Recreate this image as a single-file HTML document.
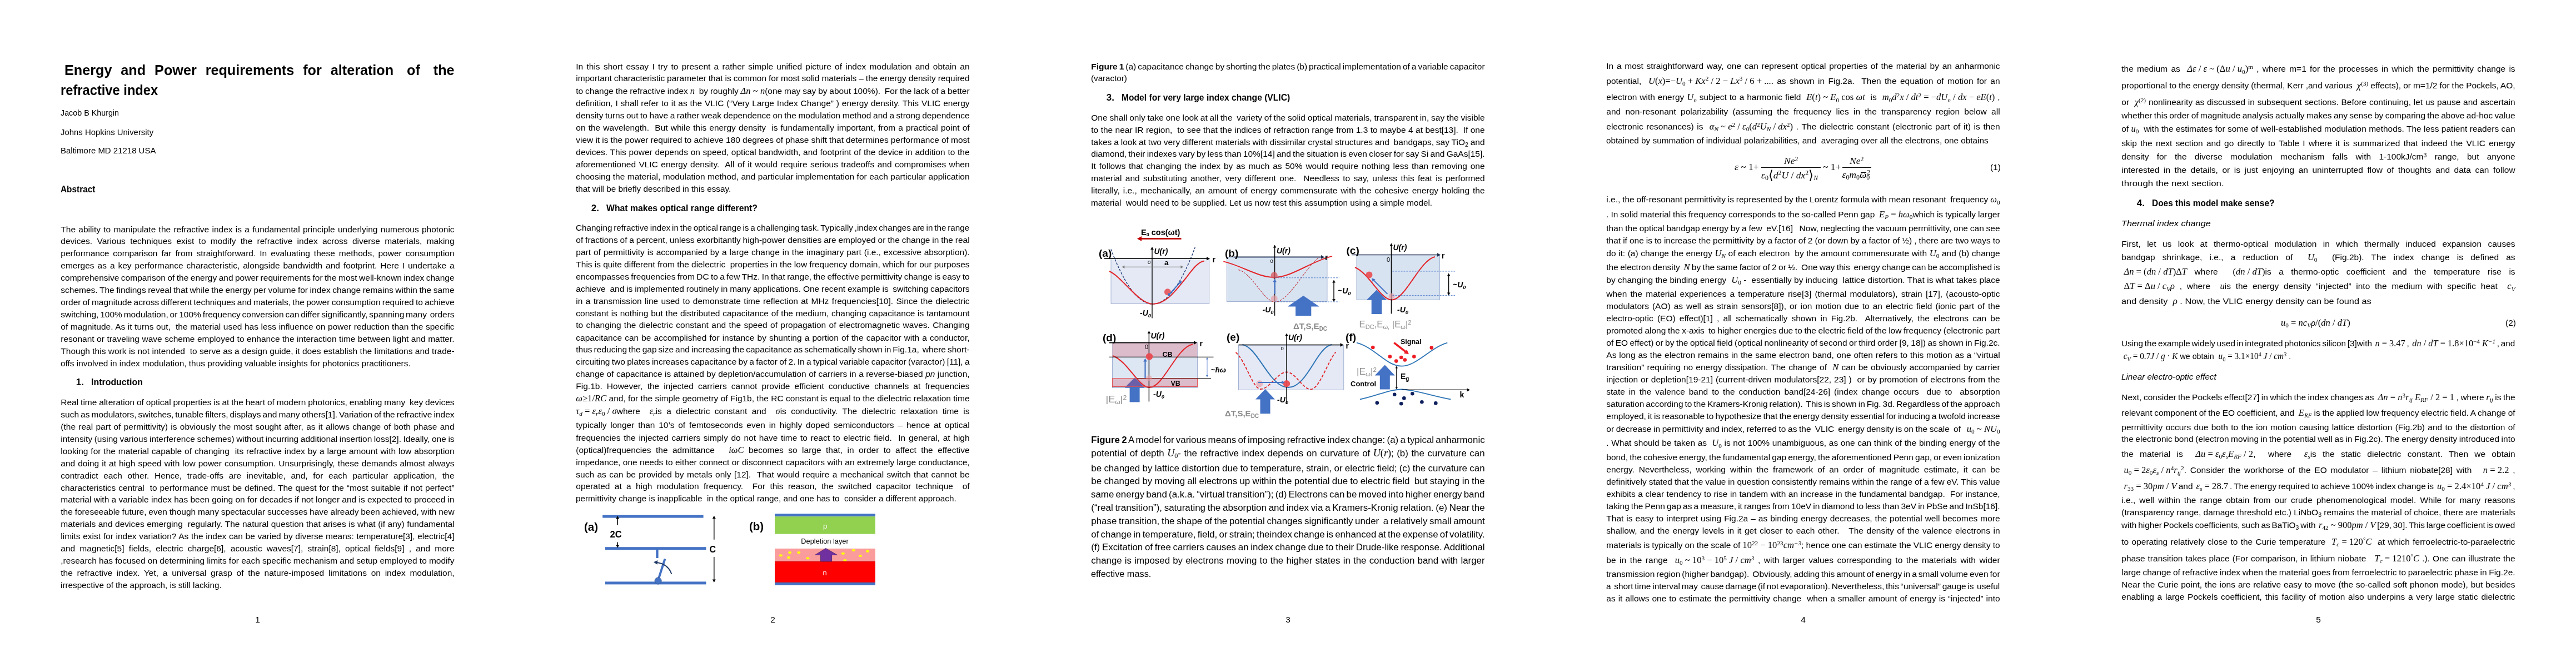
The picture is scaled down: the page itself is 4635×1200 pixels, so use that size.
<!DOCTYPE html><html><head><meta charset="utf-8"><style>
*{margin:0;padding:0}
html,body{width:4635px;height:1200px;background:#fff;overflow:hidden}
body{position:relative;font-family:"Liberation Sans",sans-serif;color:#000}
#wrap{position:absolute;left:0;top:0;width:4635px;height:1200px;background:#fff;will-change:transform}
.l{position:absolute;white-space:pre;font-family:"Liberation Sans",sans-serif}
.m{font-family:"Liberation Serif",serif;font-style:italic;font-size:1.07em;line-height:0}
.r{font-style:normal}
sub,sup{font-size:0.68em;line-height:0;position:relative;vertical-align:baseline}
sub{top:0.3em}
sup{top:-0.45em}
.l b{font-weight:bold}
svg{position:absolute;top:0;overflow:visible}
.ob{position:relative}
.ob::after{content:"";position:absolute;left:0.12em;right:0;top:0.36em;height:0;border-top:1px solid #000}
</style></head><body><div id="wrap">
<div class="l" id="L0" style="left:116.00px;top:110.37px;font-size:25.2px;line-height:32px;font-weight:bold;word-spacing:0.988px;">Energy  and  Power  requirements  for  alteration   of   the</div>
<div class="l" id="L1" style="left:109.30px;top:146.27px;font-size:25.2px;line-height:32px;font-weight:bold;transform:scaleX(0.9409);transform-origin:0 0;">refractive index</div>
<div class="l" id="L2" style="left:109.30px;top:193.33px;font-size:15.5px;line-height:20px;transform:scaleX(0.9231);transform-origin:0 0;">Jacob B Khurgin</div>
<div class="l" id="L3" style="left:109.30px;top:227.63px;font-size:15.5px;line-height:20px;transform:scaleX(0.9608);transform-origin:0 0;">Johns Hopkins University</div>
<div class="l" id="L4" style="left:109.30px;top:261.33px;font-size:15.5px;line-height:20px;transform:scaleX(0.9658);transform-origin:0 0;">Baltimore MD 21218 USA</div>
<div class="l" id="L5" style="left:109.30px;top:330.34px;font-size:16.9px;line-height:22px;font-weight:bold;transform:scaleX(0.9105);transform-origin:0 0;">Abstract</div>
<div class="l" id="L6" style="left:109.30px;top:402.53px;font-size:15.5px;line-height:20px;word-spacing:0.998px;">The ability to manipulate the refractive index is a fundamental principle underlying numerous photonic</div>
<div class="l" id="L7" style="left:109.30px;top:424.47px;font-size:15.5px;line-height:20px;word-spacing:3.985px;">devices. Various techniques exist to modify the refractive index across diverse materials, making</div>
<div class="l" id="L8" style="left:109.30px;top:446.40px;font-size:15.5px;line-height:20px;word-spacing:2.682px;">performance comparison far from straightforward. In evaluating these methods, power consumption</div>
<div class="l" id="L9" style="left:109.30px;top:468.34px;font-size:15.5px;line-height:20px;word-spacing:1.663px;">emerges as a key performance characteristic, alongside bandwidth and footprint. Here I undertake a</div>
<div class="l" id="L10" style="left:109.30px;top:490.27px;font-size:15.5px;line-height:20px;word-spacing:-0.856px;">comprehensive comparison of the energy and power requirements for the most well-known index change</div>
<div class="l" id="L11" style="left:109.30px;top:512.21px;font-size:15.5px;line-height:20px;word-spacing:-0.731px;">schemes. The findings reveal that while the energy per volume for index change remains within the same</div>
<div class="l" id="L12" style="left:109.30px;top:534.15px;font-size:15.5px;line-height:20px;word-spacing:-1.035px;">order of magnitude across different techniques and materials, the power consumption required to achieve</div>
<div class="l" id="L13" style="left:109.30px;top:556.08px;font-size:15.5px;line-height:20px;word-spacing:-1.475px;">switching, 100% modulation, or 100% frequency conversion can differ significantly, spanning many  orders</div>
<div class="l" id="L14" style="left:109.30px;top:578.02px;font-size:15.5px;line-height:20px;word-spacing:0.242px;">of magnitude. As it turns out,  the material used has less influence on power reduction than the specific</div>
<div class="l" id="L15" style="left:109.30px;top:599.96px;font-size:15.5px;line-height:20px;word-spacing:0.188px;">resonant or traveling wave scheme employed to enhance the interaction time between light and matter.</div>
<div class="l" id="L16" style="left:109.30px;top:621.89px;font-size:15.5px;line-height:20px;word-spacing:0.093px;">Though this work is not intended  to serve as a design guide, it does establish the limitations and trade-</div>
<div class="l" id="L17" style="left:109.30px;top:643.83px;font-size:15.5px;line-height:20px;transform:scaleX(0.9934);transform-origin:0 0;">offs involved in index modulation, thus providing valuable insights for photonics practitioners.</div>
<div class="l" id="L18" style="left:136.80px;top:677.04px;font-size:16.9px;line-height:22px;font-weight:bold;">1.</div>
<div class="l" id="L19" style="left:163.80px;top:677.04px;font-size:16.9px;line-height:22px;font-weight:bold;transform:scaleX(0.9430);transform-origin:0 0;">Introduction</div>
<div class="l" id="L20" style="left:109.30px;top:713.93px;font-size:15.5px;line-height:20px;word-spacing:-0.401px;">Real time alteration of optical properties is at the heart of modern photonics, enabling many  key devices</div>
<div class="l" id="L21" style="left:109.30px;top:735.87px;font-size:15.5px;line-height:20px;word-spacing:-1.264px;">such as modulators, switches, tunable filters, displays and many others[1]. Variation of the refractive index</div>
<div class="l" id="L22" style="left:109.30px;top:757.81px;font-size:15.5px;line-height:20px;word-spacing:1.010px;">(the real part of permittivity) is obviously the most sought after, as it allows change of both phase and</div>
<div class="l" id="L23" style="left:109.30px;top:779.75px;font-size:15.5px;line-height:20px;word-spacing:-0.756px;">intensity (using various interference schemes) without incurring additional insertion loss[2]. Ideally, one is</div>
<div class="l" id="L24" style="left:109.30px;top:801.69px;font-size:15.5px;line-height:20px;word-spacing:0.612px;">looking for the material capable of changing  its refractive index by a large amount with low absorption</div>
<div class="l" id="L25" style="left:109.30px;top:823.63px;font-size:15.5px;line-height:20px;word-spacing:0.765px;">and doing it at high speed with low power consumption. Unsurprisingly, these demands almost always</div>
<div class="l" id="L26" style="left:109.30px;top:845.57px;font-size:15.5px;line-height:20px;word-spacing:5.412px;">contradict each other. Hence, trade-offs are inevitable, and, for each particular application, the</div>
<div class="l" id="L27" style="left:109.30px;top:867.51px;font-size:15.5px;line-height:20px;word-spacing:0.617px;">characteristics central  to performance must be defined. The quest for the “most suitable if not perfect”</div>
<div class="l" id="L28" style="left:109.30px;top:889.45px;font-size:15.5px;line-height:20px;word-spacing:-0.045px;">material with a variable index has been going on for decades if not longer and is expected to proceed in</div>
<div class="l" id="L29" style="left:109.30px;top:911.39px;font-size:15.5px;line-height:20px;word-spacing:-0.462px;">the foreseeable future, even though many spectacular successes have already been achieved, with new</div>
<div class="l" id="L30" style="left:109.30px;top:933.33px;font-size:15.5px;line-height:20px;word-spacing:0.217px;">materials and devices emerging  regularly. The natural question that arises is what (if any) fundamental</div>
<div class="l" id="L31" style="left:109.30px;top:955.27px;font-size:15.5px;line-height:20px;word-spacing:0.352px;">limits exist for index variation? As the index can be varied by diverse means: temperature[3], electric[4]</div>
<div class="l" id="L32" style="left:109.30px;top:977.21px;font-size:15.5px;line-height:20px;word-spacing:3.886px;">and magnetic[5] fields, electric charge[6], acoustic waves[7], strain[8], optical fields[9] , and more</div>
<div class="l" id="L33" style="left:109.30px;top:999.15px;font-size:15.5px;line-height:20px;word-spacing:-0.115px;">,research has focused on determining limits for each specific mechanism and setup employed to modify</div>
<div class="l" id="L34" style="left:109.30px;top:1021.09px;font-size:15.5px;line-height:20px;word-spacing:3.451px;">the refractive index. Yet, a universal grasp of the nature-imposed limitations on index modulation,</div>
<div class="l" id="L35" style="left:109.30px;top:1043.03px;font-size:15.5px;line-height:20px;transform:scaleX(0.9832);transform-origin:0 0;">irrespective of the approach, is still lacking.</div>
<div class="l" id="L36" style="left:1036.30px;top:109.53px;font-size:15.5px;line-height:20px;word-spacing:1.966px;">In this short essay I try to present a rather simple unified picture of index modulation and obtain an</div>
<div class="l" id="L37" style="left:1036.30px;top:131.43px;font-size:15.5px;line-height:20px;word-spacing:-0.358px;">important characteristic parameter that is common for most solid materials – the energy density required</div>
<div class="l" id="L38" style="left:1036.30px;top:154.03px;font-size:15.5px;line-height:20px;word-spacing:-0.457px;">to change the refractive index <span class="m">n</span>  by roughly <span class="m">Δn</span><span class="m r"> ~ </span><span class="m">n</span>(one may say by about 100%).  For the lack of a better</div>
<div class="l" id="L39" style="left:1036.30px;top:175.83px;font-size:15.5px;line-height:20px;word-spacing:0.516px;">definition, I shall refer to it as the VLIC (“Very Large Index Change” ) energy density. This VLIC energy</div>
<div class="l" id="L40" style="left:1036.30px;top:197.93px;font-size:15.5px;line-height:20px;word-spacing:-0.757px;">density turns out to have a rather weak dependence on the modulation method and a strong dependence</div>
<div class="l" id="L41" style="left:1036.30px;top:219.83px;font-size:15.5px;line-height:20px;word-spacing:0.816px;">on the wavelength.  But while this energy density  is fundamentally important, from a practical point of</div>
<div class="l" id="L42" style="left:1036.30px;top:241.93px;font-size:15.5px;line-height:20px;word-spacing:-0.198px;">view it is the power required to achieve 180 degrees of phase shift that determines performance of most</div>
<div class="l" id="L43" style="left:1036.30px;top:263.73px;font-size:15.5px;line-height:20px;word-spacing:0.394px;">devices. This power depends on speed, optical bandwidth, and footprint of the device in addition to the</div>
<div class="l" id="L44" style="left:1036.30px;top:285.73px;font-size:15.5px;line-height:20px;word-spacing:1.093px;">aforementioned VLIC energy density.  All of it would require serious tradeoffs and compromises when</div>
<div class="l" id="L45" style="left:1036.30px;top:307.73px;font-size:15.5px;line-height:20px;word-spacing:0.162px;">choosing the material, modulation method, and particular implementation for each particular application</div>
<div class="l" id="L46" style="left:1036.30px;top:329.63px;font-size:15.5px;line-height:20px;transform:scaleX(0.9860);transform-origin:0 0;">that will be briefly described in this essay.</div>
<div class="l" id="L47" style="left:1063.80px;top:364.14px;font-size:16.9px;line-height:22px;font-weight:bold;">2.</div>
<div class="l" id="L48" style="left:1090.80px;top:364.14px;font-size:16.9px;line-height:22px;font-weight:bold;transform:scaleX(0.9349);transform-origin:0 0;">What makes optical range different?</div>
<div class="l" id="L49" style="left:1036.30px;top:399.93px;font-size:15.5px;line-height:20px;word-spacing:-1.500px;transform:scaleX(0.9856);transform-origin:0 0;">Changing refractive index in the optical range is a challenging task. Typically ,index changes are in the range</div>
<div class="l" id="L50" style="left:1036.30px;top:421.73px;font-size:15.5px;line-height:20px;word-spacing:-0.428px;">of fractions of a percent, unless exorbitantly high-power densities are employed or the change in the real</div>
<div class="l" id="L51" style="left:1036.30px;top:443.73px;font-size:15.5px;line-height:20px;word-spacing:0.583px;">part of permittivity is accompanied by a large change in the imaginary part (i.e., excessive absorption).</div>
<div class="l" id="L52" style="left:1036.30px;top:465.69px;font-size:15.5px;line-height:20px;word-spacing:-0.078px;">This is quite different from the dielectric  properties in the low frequency domain, which for our purposes</div>
<div class="l" id="L53" style="left:1036.30px;top:487.65px;font-size:15.5px;line-height:20px;word-spacing:-0.922px;">encompasses frequencies from DC to a few THz. In that range, the effective permittivity change is easy to</div>
<div class="l" id="L54" style="left:1036.30px;top:509.61px;font-size:15.5px;line-height:20px;word-spacing:-0.453px;">achieve  and is implemented routinely in many applications. One recent example is  switching capacitors</div>
<div class="l" id="L55" style="left:1036.30px;top:531.57px;font-size:15.5px;line-height:20px;word-spacing:1.055px;">in a transmission line used to demonstrate time reflection at MHz frequencies[10]. Since the dielectric</div>
<div class="l" id="L56" style="left:1036.30px;top:553.53px;font-size:15.5px;line-height:20px;word-spacing:0.465px;">constant is nothing but the distributed capacitance of the medium, changing capacitance is tantamount</div>
<div class="l" id="L57" style="left:1036.30px;top:575.43px;font-size:15.5px;line-height:20px;word-spacing:1.060px;">to changing the dielectric constant and the speed of propagation of electromagnetic waves. Changing</div>
<div class="l" id="L58" style="left:1036.30px;top:597.83px;font-size:15.5px;line-height:20px;word-spacing:0.806px;">capacitance can be accomplished for instance by shunting a portion of the capacitor with a conductor,</div>
<div class="l" id="L59" style="left:1036.30px;top:619.33px;font-size:15.5px;line-height:20px;word-spacing:-1.288px;">thus reducing the gap size and increasing the capacitance as schematically shown in Fig.1a,  where short-</div>
<div class="l" id="L60" style="left:1036.30px;top:641.13px;font-size:15.5px;line-height:20px;word-spacing:-0.990px;">circuiting two plates increases capacitance by a factor of 2. In a typical variable capacitor (varactor) [11], a</div>
<div class="l" id="L61" style="left:1036.30px;top:663.23px;font-size:15.5px;line-height:20px;word-spacing:0.134px;">change of capacitance is attained by depletion/accumulation of carriers in a reverse-biased <i>pn</i> junction,</div>
<div class="l" id="L62" style="left:1036.30px;top:685.33px;font-size:15.5px;line-height:20px;word-spacing:3.870px;">Fig.1b. However, the injected carriers cannot provide efficient conductive channels at frequencies</div>
<div class="l" id="L63" style="left:1036.30px;top:707.13px;font-size:15.5px;line-height:20px;word-spacing:0.070px;"><span class="m">ω</span><span class="m r">≥1/</span><span class="m">RC</span> and, for the simple geometry of Fig1b, the RC constant is equal to the dielectric relaxation time</div>
<div class="l" id="L64" style="left:1036.30px;top:729.83px;font-size:15.5px;line-height:20px;word-spacing:4.083px;"><span class="m">τ<sub>d</sub></span><span class="m r"> = </span><span class="m">ε<sub>r</sub>ε</span><span class="m r"><sub>0</sub> / </span><span class="m">σ</span>where  <span class="m">ε<sub>r</sub></span>is a dielectric constant and  <span class="m">σ</span>is conductivity. The dielectric relaxation time is</div>
<div class="l" id="L65" style="left:1036.30px;top:755.23px;font-size:15.5px;line-height:20px;word-spacing:2.546px;">typically longer than 10’s of femtoseconds even in highly doped semiconductors – hence at optical</div>
<div class="l" id="L66" style="left:1036.30px;top:777.63px;font-size:15.5px;line-height:20px;word-spacing:1.393px;">frequencies the injected carriers simply do not have time to react to electric field.  In general, at high</div>
<div class="l" id="L67" style="left:1036.30px;top:799.73px;font-size:15.5px;line-height:20px;word-spacing:4.134px;">(optical)frequencies the admittance   <span class="m">iωC</span> becomes so large that, in order to affect the effective</div>
<div class="l" id="L68" style="left:1036.30px;top:821.83px;font-size:15.5px;line-height:20px;word-spacing:0.070px;">impedance, one needs to either connect or disconnect capacitors with an extremely large conductance,</div>
<div class="l" id="L69" style="left:1036.30px;top:843.63px;font-size:15.5px;line-height:20px;word-spacing:1.120px;">such as can be provided by metals only [12].  That would require a mechanical switch that cannot be</div>
<div class="l" id="L70" style="left:1036.30px;top:865.43px;font-size:15.5px;line-height:20px;word-spacing:4.043px;">operated at a high modulation frequency.  For this reason, the switched capacitor technique  of</div>
<div class="l" id="L71" style="left:1036.30px;top:887.03px;font-size:15.5px;line-height:20px;transform:scaleX(0.9851);transform-origin:0 0;">permittivity change is inapplicable  in the optical range, and one has to  consider a different approach.</div>
<div class="l" id="L72" style="left:1963.30px;top:110.03px;font-size:15.5px;line-height:20px;word-spacing:-1.314px;"><b>Figure 1</b> (a) capacitance change by shorting the plates (b) practical implementation of a variable capacitor</div>
<div class="l" id="L73" style="left:1963.30px;top:131.33px;font-size:15.5px;line-height:20px;transform:scaleX(0.9785);transform-origin:0 0;">(varactor)</div>
<div class="l" id="L74" style="left:1990.80px;top:165.24px;font-size:16.9px;line-height:22px;font-weight:bold;">3.</div>
<div class="l" id="L75" style="left:2017.80px;top:165.24px;font-size:16.9px;line-height:22px;font-weight:bold;transform:scaleX(0.9256);transform-origin:0 0;">Model for very large index change (VLIC)</div>
<div class="l" id="L76" style="left:1963.30px;top:202.13px;font-size:15.5px;line-height:20px;word-spacing:-0.426px;">One shall only take one look at all the  variety of the solid optical materials, transparent in, say the visible</div>
<div class="l" id="L77" style="left:1963.30px;top:223.93px;font-size:15.5px;line-height:20px;word-spacing:0.114px;">to the near IR region,  to see that the indices of refraction range from 1.3 to maybe 4 at best[13].  If one</div>
<div class="l" id="L78" style="left:1963.30px;top:245.53px;font-size:15.5px;line-height:20px;word-spacing:-0.421px;">takes a look at two very different materials with dissimilar crystal structures and  bandgaps, say TiO<sub>2</sub> and</div>
<div class="l" id="L79" style="left:1963.30px;top:267.23px;font-size:15.5px;line-height:20px;word-spacing:-1.049px;">diamond, their indexes vary by less than 10%[14] and the situation is even closer for say Si and GaAs[15].</div>
<div class="l" id="L80" style="left:1963.30px;top:289.03px;font-size:15.5px;line-height:20px;word-spacing:1.574px;">It follows that changing the index by as much as 50% would require nothing less than removing one</div>
<div class="l" id="L81" style="left:1963.30px;top:311.13px;font-size:15.5px;line-height:20px;word-spacing:2.111px;">material and substituting another, very different one.  Needless to say, unless this feat is performed</div>
<div class="l" id="L82" style="left:1963.30px;top:333.23px;font-size:15.5px;line-height:20px;word-spacing:1.707px;">literally, i.e., mechanically, an amount of energy commensurate with the cohesive energy holding the</div>
<div class="l" id="L83" style="left:1963.30px;top:355.03px;font-size:15.5px;line-height:20px;transform:scaleX(0.9858);transform-origin:0 0;">material  would need to be supplied. Let us now test this assumption using a simple model.</div>
<div class="l" id="L84" style="left:1963.30px;top:780.84px;font-size:16.9px;line-height:22px;word-spacing:-1.411px;"><b>Figure 2</b> A model for various means of imposing refractive index change: (a) a typical anharmonic</div>
<div class="l" id="L85" style="left:1963.30px;top:804.64px;font-size:16.9px;line-height:22px;word-spacing:0.854px;">potential of depth <span class="m">U</span><span class="m r"><sub>0</sub></span>- the refractive index depends on curvature of <span class="m">U</span><span class="m r">(</span><span class="m">r</span><span class="m r">)</span>; (b) the curvature can</div>
<div class="l" id="L86" style="left:1963.30px;top:831.54px;font-size:16.9px;line-height:22px;word-spacing:-0.349px;">be changed by lattice distortion due to temperature, strain, or electric field; (c) the curvature can</div>
<div class="l" id="L87" style="left:1963.30px;top:855.36px;font-size:16.9px;line-height:22px;word-spacing:-0.399px;">be changed by moving all electrons up within the potential due to electric field  but staying in the</div>
<div class="l" id="L88" style="left:1963.30px;top:879.17px;font-size:16.9px;line-height:22px;word-spacing:-1.500px;transform:scaleX(0.9997);transform-origin:0 0;">same energy band (a.k.a. “virtual transition”); (d) Electrons can be moved into higher energy band</div>
<div class="l" id="L89" style="left:1963.30px;top:902.98px;font-size:16.9px;line-height:22px;word-spacing:-0.906px;">(“real transition”), saturating the absorption and index via a Kramers-Kronig relation. (e) Near the</div>
<div class="l" id="L90" style="left:1963.30px;top:926.79px;font-size:16.9px;line-height:22px;word-spacing:-0.982px;">phase transition, the shape of the potential changes significantly under  a relatively small amount</div>
<div class="l" id="L91" style="left:1963.30px;top:950.61px;font-size:16.9px;line-height:22px;word-spacing:-1.460px;">of change in temperature, field, or strain; theindex change is enhanced at the expense of volatility.</div>
<div class="l" id="L92" style="left:1963.30px;top:974.42px;font-size:16.9px;line-height:22px;word-spacing:-0.979px;">(f) Excitation of free carriers causes an index change due to their Drude-like response. Additional</div>
<div class="l" id="L93" style="left:1963.30px;top:998.23px;font-size:16.9px;line-height:22px;word-spacing:0.462px;">change is imposed by electrons moving to the higher states in the conduction band with larger</div>
<div class="l" id="L94" style="left:1963.30px;top:1022.04px;font-size:16.9px;line-height:22px;transform:scaleX(0.9640);transform-origin:0 0;">effective mass.</div>
<div class="l" id="L95" style="left:2890.30px;top:109.23px;font-size:15.5px;line-height:20px;word-spacing:1.404px;">In a most straightforward way, one can represent optical properties of the material by an anharmonic</div>
<div class="l" id="L96" style="left:2890.30px;top:135.53px;font-size:15.5px;line-height:20px;word-spacing:2.050px;">potential,  <span class="m">U</span><span class="m r">(</span><span class="m">x</span><span class="m r">)=−</span><span class="m">U</span><span class="m r"><sub>0</sub> + </span><span class="m">Kx</span><span class="m r"><sup>2</sup> / 2 − </span><span class="m">Lx</span><span class="m r"><sup>3</sup> / 6 + ....</span> as shown in Fig.2a.  Then the equation of motion for an</div>
<div class="l" id="L97" style="left:2890.30px;top:165.33px;font-size:15.5px;line-height:20px;word-spacing:0.626px;">electron with energy <span class="m">U<sub>n</sub></span> subject to a harmonic field  <span class="m">E</span><span class="m r">(</span><span class="m">t</span><span class="m r">) ~ </span><span class="m">E</span><span class="m r"><sub>0</sub> cos </span><span class="m">ωt</span>  is  <span class="m">m</span><span class="m r"><sub>0</sub></span><span class="m">d</span><span class="m r"><sup>2</sup></span><span class="m">x</span><span class="m r"> / </span><span class="m">dt</span><span class="m r"><sup>2</sup> = −</span><span class="m">dU<sub>n</sub></span><span class="m r"> / </span><span class="m">dx</span><span class="m r"> − </span><span class="m">eE</span><span class="m r">(</span><span class="m">t</span><span class="m r">)</span> ,</div>
<div class="l" id="L98" style="left:2890.30px;top:190.83px;font-size:15.5px;line-height:20px;word-spacing:3.953px;">and non-resonant polarizability (assuming the frequency lies in the transparency region below all</div>
<div class="l" id="L99" style="left:2890.30px;top:217.73px;font-size:15.5px;line-height:20px;word-spacing:1.336px;">electronic resonances) is  <span class="m">α<sub>N</sub></span><span class="m r"> ~ </span><span class="m">e</span><span class="m r"><sup>2</sup> / </span><span class="m">ε</span><span class="m r"><sub>0</sub>(</span><span class="m">d</span><span class="m r"><sup>2</sup></span><span class="m">U<sub>N</sub></span><span class="m r"> / </span><span class="m">dx</span><span class="m r"><sup>2</sup>)</span> . The dielectric constant (electronic part of it) is then</div>
<div class="l" id="L100" style="left:2890.30px;top:242.63px;font-size:15.5px;line-height:20px;transform:scaleX(0.9890);transform-origin:0 0;">obtained by summation of individual polarizabilities, and  averaging over all the electrons, one obtains</div>
<div class="l" id="L101" style="left:2890.30px;top:349.43px;font-size:15.5px;line-height:20px;word-spacing:-0.442px;">i.e., the off-resonant permittivity is represented by the Lorentz formula with mean resonant  frequency <span class="m"><span class="ob">ω</span></span><span class="m r"><sub>0</sub></span></div>
<div class="l" id="L102" style="left:2890.30px;top:375.73px;font-size:15.5px;line-height:20px;word-spacing:-0.426px;">. In solid material this frequency corresponds to the so-called Penn gap  <span class="m">E<sub>P</sub></span><span class="m r"> = </span><span class="m">ħ<span class="ob">ω</span></span><span class="m r"><sub>0</sub></span>which is typically larger</div>
<div class="l" id="L103" style="left:2890.30px;top:401.03px;font-size:15.5px;line-height:20px;word-spacing:-0.452px;">than the optical bandgap energy by a few  eV.[16]   Now, neglecting the vacuum permittivity, one can see</div>
<div class="l" id="L104" style="left:2890.30px;top:422.93px;font-size:15.5px;line-height:20px;word-spacing:-0.305px;">that if one is to increase the permittivity by a factor of 2 (or down by a factor of ½) , there are two ways to</div>
<div class="l" id="L105" style="left:2890.30px;top:445.53px;font-size:15.5px;line-height:20px;word-spacing:0.225px;">do it: (a) change the energy <span class="m">U<sub>N</sub></span> of each electron  by the amount commensurate with <span class="m">U</span><span class="m r"><sub>0</sub></span> and (b) change</div>
<div class="l" id="L106" style="left:2890.30px;top:470.53px;font-size:15.5px;line-height:20px;word-spacing:-0.965px;">the electron density  <span class="m">N</span> by the same factor of 2 or ½.  One way this  energy change can be accomplished is</div>
<div class="l" id="L107" style="left:2890.30px;top:493.73px;font-size:15.5px;line-height:20px;word-spacing:0.133px;">by changing the binding energy  <span class="m">U</span><span class="m r"><sub>0</sub></span> -  essentially by inducing  lattice distortion. That is what takes place</div>
<div class="l" id="L108" style="left:2890.30px;top:519.23px;font-size:15.5px;line-height:20px;word-spacing:1.892px;">when the material experiences a temperature rise[3] (thermal modulators), strain [17], (acousto-optic</div>
<div class="l" id="L109" style="left:2890.30px;top:541.03px;font-size:15.5px;line-height:20px;word-spacing:1.683px;">modulators (AO) as well as strain sensors[8]), or ion motion due to an electric field (ionic part of the</div>
<div class="l" id="L110" style="left:2890.30px;top:563.03px;font-size:15.5px;line-height:20px;word-spacing:2.882px;">electro-optic (EO) effect)[1] , all schematically shown in Fig.2b.  Alternatively, the electrons can be</div>
<div class="l" id="L111" style="left:2890.30px;top:585.13px;font-size:15.5px;line-height:20px;word-spacing:-0.666px;">promoted along the x-axis  to higher energies due to the electric field of the low frequency (electronic part</div>
<div class="l" id="L112" style="left:2890.30px;top:606.93px;font-size:15.5px;line-height:20px;word-spacing:-0.842px;">of EO effect) or by the optical field (optical nonlinearity of second or third order [9, 18]) as shown in Fig.2c.</div>
<div class="l" id="L113" style="left:2890.30px;top:629.03px;font-size:15.5px;line-height:20px;word-spacing:0.549px;">As long as the electron remains in the same electron band, one often refers to this motion as a “virtual</div>
<div class="l" id="L114" style="left:2890.30px;top:650.93px;font-size:15.5px;line-height:20px;word-spacing:0.836px;">transition” requiring no energy dissipation. The change of  <span class="m">N</span> can be obviously accompanied by carrier</div>
<div class="l" id="L115" style="left:2890.30px;top:673.03px;font-size:15.5px;line-height:20px;word-spacing:0.623px;">injection or depletion[19-21] (current-driven modulators[22, 23] )  or by promotion of electrons from the</div>
<div class="l" id="L116" style="left:2890.30px;top:694.83px;font-size:15.5px;line-height:20px;word-spacing:2.637px;">state in the valence band to the conduction band[24-26] (index change occurs  due to  absorption</div>
<div class="l" id="L117" style="left:2890.30px;top:716.73px;font-size:15.5px;line-height:20px;word-spacing:-1.322px;">saturation according to the Kramers-Kronig relation).  This is shown in Fig. 3d. Regardless of the approach</div>
<div class="l" id="L118" style="left:2890.30px;top:738.63px;font-size:15.5px;line-height:20px;word-spacing:-1.088px;">employed, it is reasonable to hypothesize that the energy density essential for inducing a twofold increase</div>
<div class="l" id="L119" style="left:2890.30px;top:761.83px;font-size:15.5px;line-height:20px;word-spacing:-0.726px;">or decrease in permittivity and index, referred to as the  VLIC  energy density is on the scale  of   <span class="m">u</span><span class="m r"><sub>0</sub> ~ </span><span class="m">NU</span><span class="m r"><sub>0</sub></span></div>
<div class="l" id="L120" style="left:2890.30px;top:787.33px;font-size:15.5px;line-height:20px;word-spacing:0.309px;">. What should be taken as  <span class="m">U</span><span class="m r"><sub>0</sub></span> is not 100% unambiguous, as one can think of the binding energy of the</div>
<div class="l" id="L121" style="left:2890.30px;top:813.13px;font-size:15.5px;line-height:20px;word-spacing:-1.131px;">bond, the cohesive energy, the fundamental gap energy, the aforementioned Penn gap, or even ionization</div>
<div class="l" id="L122" style="left:2890.30px;top:834.93px;font-size:15.5px;line-height:20px;word-spacing:3.660px;">energy. Nevertheless, working within the framework of an order of magnitude estimate, it can be</div>
<div class="l" id="L123" style="left:2890.30px;top:857.13px;font-size:15.5px;line-height:20px;word-spacing:-0.301px;">definitively stated that the value in question consistently remains within the range of a few eV. This value</div>
<div class="l" id="L124" style="left:2890.30px;top:879.13px;font-size:15.5px;line-height:20px;word-spacing:0.205px;">exhibits a clear tendency to rise in tandem with an increase in the fundamental bandgap.  For instance,</div>
<div class="l" id="L125" style="left:2890.30px;top:900.93px;font-size:15.5px;line-height:20px;word-spacing:-1.119px;">taking the Penn gap as a measure, it ranges from 10eV in diamond to less than 3eV in PbSe and InSb[16].</div>
<div class="l" id="L126" style="left:2890.30px;top:922.73px;font-size:15.5px;line-height:20px;word-spacing:0.704px;">That is easy to interpret using Fig.2a – as binding energy decreases, the potential well becomes more</div>
<div class="l" id="L127" style="left:2890.30px;top:945.43px;font-size:15.5px;line-height:20px;word-spacing:1.309px;">shallow, and the energy levels in it get closer to each other.   The density of the valence electrons in</div>
<div class="l" id="L128" style="left:2890.30px;top:970.93px;font-size:15.5px;line-height:20px;word-spacing:-0.315px;">materials is typically on the scale of <span class="m r">10<sup>22</sup> − 10<sup>23</sup></span><span class="m">cm<sup>−3</sup></span>; hence one can estimate the VLIC energy density to</div>
<div class="l" id="L129" style="left:2890.30px;top:997.83px;font-size:15.5px;line-height:20px;word-spacing:2.268px;">be in the range  <span class="m">u</span><span class="m r"><sub>0</sub> ~ 10<sup>3</sup> − 10<sup>5</sup></span><span class="m"> J</span><span class="m r"> / </span><span class="m">cm<sup>3</sup></span> , with larger values corresponding to the materials with wider</div>
<div class="l" id="L130" style="left:2890.30px;top:1023.13px;font-size:15.5px;line-height:20px;word-spacing:-1.323px;">transmission region (higher bandgap).  Obviously, adding this amount of energy in a small volume even for</div>
<div class="l" id="L131" style="left:2890.30px;top:1045.13px;font-size:15.5px;line-height:20px;word-spacing:-1.500px;transform:scaleX(0.9957);transform-origin:0 0;">a  short time interval may  cause damage (if not evaporation). Nevertheless, this “universal” gauge is  useful</div>
<div class="l" id="L132" style="left:2890.30px;top:1066.93px;font-size:15.5px;line-height:20px;word-spacing:0.676px;">as it allows one to estimate the permittivity change  when a smaller amount of energy is “injected” into</div>
<div class="l" id="L133" style="left:3817.30px;top:114.33px;font-size:15.5px;line-height:20px;word-spacing:1.937px;">the medium as  <span class="m">Δε</span><span class="m r"> / </span><span class="m">ε</span><span class="m r"> ~ (Δ</span><span class="m">u</span><span class="m r"> / </span><span class="m">u</span><span class="m r"><sub>0</sub>)<sup><span class="m">m</span></sup></span> , where m=1 for the processes in which the permittivity change is</div>
<div class="l" id="L134" style="left:3817.30px;top:144.03px;font-size:15.5px;line-height:20px;word-spacing:-0.293px;">proportional to the energy density (thermal, Kerr ,and various  <span class="m">χ</span><span class="m r"><sup>(3)</sup></span> effects), or m=1/2 for the Pockels, AO,</div>
<div class="l" id="L135" style="left:3817.30px;top:173.83px;font-size:15.5px;line-height:20px;word-spacing:0.477px;">or  <span class="m">χ</span><span class="m r"><sup>(2)</sup></span> nonlinearity as discussed in subsequent sections. Before continuing, let us pause and ascertain</div>
<div class="l" id="L136" style="left:3817.30px;top:198.43px;font-size:15.5px;line-height:20px;word-spacing:-0.973px;">whether this order of magnitude analysis actually makes any sense by comparing the above ad-hoc value</div>
<div class="l" id="L137" style="left:3817.30px;top:222.03px;font-size:15.5px;line-height:20px;word-spacing:0.014px;">of <span class="m">u</span><span class="m r"><sub>0</sub></span>  with the estimates for some of well-established modulation methods. The less patient readers can</div>
<div class="l" id="L138" style="left:3817.30px;top:247.93px;font-size:15.5px;line-height:20px;word-spacing:1.983px;">skip the next section and go directly to Table I where it is summarized that indeed the VLIC energy</div>
<div class="l" id="L139" style="left:3817.30px;top:272.33px;font-size:15.5px;line-height:20px;word-spacing:9.970px;">density for the diverse modulation mechanism falls with 1-100kJ/cm<sup>3</sup> range, but anyone</div>
<div class="l" id="L140" style="left:3817.30px;top:295.53px;font-size:15.5px;line-height:20px;word-spacing:3.286px;">interested in the details, or is just enjoying an uninterrupted flow of thoughts and data can follow</div>
<div class="l" id="L141" style="left:3817.30px;top:319.63px;font-size:15.5px;line-height:20px;transform:scaleX(1.0880);transform-origin:0 0;">through the next section.</div>
<div class="l" id="L142" style="left:3844.80px;top:354.94px;font-size:16.9px;line-height:22px;font-weight:bold;">4.</div>
<div class="l" id="L143" style="left:3871.80px;top:354.94px;font-size:16.9px;line-height:22px;font-weight:bold;transform:scaleX(0.9135);transform-origin:0 0;">Does this model make sense?</div>
<div class="l" id="L144" style="left:3817.30px;top:391.93px;font-size:15.5px;line-height:20px;transform:scaleX(1.0478);transform-origin:0 0;"><i>Thermal index change</i></div>
<div class="l" id="L145" style="left:3817.30px;top:428.63px;font-size:15.5px;line-height:20px;word-spacing:7.116px;">First, let us look at thermo-optical modulation in which thermally induced expansion causes</div>
<div class="l" id="L146" style="left:3817.30px;top:452.73px;font-size:15.5px;line-height:20px;word-spacing:8.897px;">bandgap shrinkage, i.e., a reduction of  <span class="m">U</span><span class="m r"><sub>0</sub></span>  (Fig.2b). The index change is defined as</div>
<div class="l" id="L147" style="left:3817.30px;top:478.83px;font-size:15.5px;line-height:20px;word-spacing:9.114px;"><span class="m"> Δn</span><span class="m r"> = (</span><span class="m">dn</span><span class="m r"> / </span><span class="m">dT</span><span class="m r">)Δ</span><span class="m">T</span> where  <span class="m r">(</span><span class="m">dn</span><span class="m r"> / </span><span class="m">dT</span><span class="m r">)</span>is a thermo-optic coefficient and the temperature rise is</div>
<div class="l" id="L148" style="left:3817.30px;top:505.13px;font-size:15.5px;line-height:20px;word-spacing:4.404px;"><span class="m r"> Δ</span><span class="m">T</span><span class="m r"> = Δ</span><span class="m">u</span><span class="m r"> / </span><span class="m">c<sub>V</sub>ρ</span> , where  <span class="m">u</span>is the energy density “injected” into the medium with specific heat  <span class="m">c<sub>V</sub></span></div>
<div class="l" id="L149" style="left:3817.30px;top:532.03px;font-size:15.5px;line-height:20px;transform:scaleX(1.0517);transform-origin:0 0;">and density  <span class="m">ρ</span> . Now, the VLIC energy density can be found as</div>
<div class="l" id="L150" style="left:4104.00px;top:570.63px;font-size:15.5px;line-height:20px;"><span class="m">u</span><span class="m r"><sub>0</sub> = </span><span class="m">nc<sub>V</sub>ρ</span><span class="m r">/(</span><span class="m">dn</span><span class="m r"> / </span><span class="m">dT</span><span class="m r">)</span></div>
<div class="l" id="L151" style="left:4508.00px;top:570.63px;font-size:15.5px;line-height:20px;">(2)</div>
<div class="l" id="L152" style="left:3817.30px;top:608.43px;font-size:15.5px;line-height:20px;word-spacing:-1.500px;transform:scaleX(0.9868);transform-origin:0 0;">Using the example widely used in integrated photonics silicon [3]with  <span class="m">n</span><span class="m r"> = 3.47</span> ,  <span class="m">dn</span><span class="m r"> / </span><span class="m">dT</span><span class="m r"> = 1.8×10<sup>−4</sup></span><span class="m"> K<sup>−1</sup></span> , and</div>
<div class="l" id="L153" style="left:3817.30px;top:631.13px;font-size:15.5px;line-height:20px;transform:scaleX(0.9209);transform-origin:0 0;"><span class="m"> c<sub>V</sub></span><span class="m r"> = 0.7</span><span class="m">J</span><span class="m r"> / </span><span class="m">g</span><span class="m r"> · </span><span class="m">K</span> we obtain  <span class="m">u</span><span class="m r"><sub>0</sub> = 3.1×10<sup>4</sup></span><span class="m"> J</span><span class="m r"> / </span><span class="m">cm<sup>3</sup></span> .</div>
<div class="l" id="L154" style="left:3817.30px;top:667.93px;font-size:15.5px;line-height:20px;transform:scaleX(0.9808);transform-origin:0 0;"><i>Linear electro-optic effect</i></div>
<div class="l" id="L155" style="left:3817.30px;top:704.83px;font-size:15.5px;line-height:20px;word-spacing:-0.809px;">Next, consider the Pockels effect[27] in which the index changes as  <span class="m">Δn</span><span class="m r"> = </span><span class="m">n</span><span class="m r"><sup>3</sup></span><span class="m">r<sub>ij</sub> E<sub>RF</sub></span><span class="m r"> / 2 = 1</span> , where <span class="m">r<sub>ij</sub></span> is the</div>
<div class="l" id="L156" style="left:3817.30px;top:733.03px;font-size:15.5px;line-height:20px;word-spacing:-0.546px;">relevant component of the EO coefficient, and  <span class="m">E<sub>RF</sub></span> is the applied low frequency electric field. A change of</div>
<div class="l" id="L157" style="left:3817.30px;top:758.53px;font-size:15.5px;line-height:20px;word-spacing:0.975px;">permittivity occurs due both to the ion motion causing lattice distortion (Fig.2b) and to the distortion of</div>
<div class="l" id="L158" style="left:3817.30px;top:780.33px;font-size:15.5px;line-height:20px;word-spacing:-0.786px;">the electronic bond (electron moving in the potential well as in Fig.2c). The energy density introduced into</div>
<div class="l" id="L159" style="left:3817.30px;top:806.73px;font-size:15.5px;line-height:20px;word-spacing:6.960px;">the material is  <span class="m">Δu</span><span class="m r"> = </span><span class="m">ε</span><span class="m r"><sub>0</sub></span><span class="m">ε<sub>s</sub>E<sub>RF</sub></span><span class="m r"> / 2</span>,  where  <span class="m">ε<sub>s</sub></span>is the static dielectric constant. Then we obtain</div>
<div class="l" id="L160" style="left:3817.30px;top:835.63px;font-size:15.5px;line-height:20px;word-spacing:2.500px;"><span class="m"> u</span><span class="m r"><sub>0</sub> = 2</span><span class="m">ε</span><span class="m r"><sub>0</sub></span><span class="m">ε<sub>s</sub></span><span class="m r"> / </span><span class="m">n</span><span class="m r"><sup>4</sup></span><span class="m">r<sub>ij</sub></span><span class="m r"><sup>2</sup></span>. Consider the workhorse of the EO modulator – lithium niobate[28] with   <span class="m">n</span><span class="m r"> = 2.2</span> ,</div>
<div class="l" id="L161" style="left:3817.30px;top:864.83px;font-size:15.5px;line-height:20px;word-spacing:-1.323px;"><span class="m"> r</span><span class="m r"><sub>33</sub> = 30</span><span class="m">pm</span><span class="m r"> / </span><span class="m">V</span> and  <span class="m">ε<sub>s</sub></span><span class="m r"> = 28.7</span> . The energy required to achieve 100% index change is  <span class="m">u</span><span class="m r"><sub>0</sub> = 2.4×10<sup>4</sup></span><span class="m"> J</span><span class="m r"> / </span><span class="m">cm<sup>3</sup></span> ,</div>
<div class="l" id="L162" style="left:3817.30px;top:889.83px;font-size:15.5px;line-height:20px;word-spacing:2.776px;">i.e., well within the range obtain from our crude phenomenological model. While for many reasons</div>
<div class="l" id="L163" style="left:3817.30px;top:912.03px;font-size:15.5px;line-height:20px;word-spacing:-0.044px;">(transparency range, damage threshold etc.) LiNbO<sub>3</sub> remains the material of choice, there are materials</div>
<div class="l" id="L164" style="left:3817.30px;top:935.03px;font-size:15.5px;line-height:20px;word-spacing:-1.500px;transform:scaleX(0.9929);transform-origin:0 0;">with higher Pockels coefficients, such as BaTiO<sub>3</sub> with  <span class="m">r</span><span class="m r"><sub>42</sub> ~ 900</span><span class="m">pm</span><span class="m r"> / </span><span class="m">V</span> [29, 30]. This large coefficient is owed</div>
<div class="l" id="L165" style="left:3817.30px;top:964.73px;font-size:15.5px;line-height:20px;word-spacing:1.006px;">to operating relatively close to the Curie temperature  <span class="m">T<sub>c</sub></span><span class="m r"> = 120<sup>°</sup></span><span class="m">C</span>  at which ferroelectric-to-paraelectric</div>
<div class="l" id="L166" style="left:3817.30px;top:995.03px;font-size:15.5px;line-height:20px;word-spacing:0.730px;">phase transition takes place (For comparison, in lithium niobate   <span class="m">T<sub>c</sub></span><span class="m r"> = 1210<sup>°</sup></span><span class="m">C</span> .). One can illustrate the</div>
<div class="l" id="L167" style="left:3817.30px;top:1020.13px;font-size:15.5px;line-height:20px;word-spacing:-0.625px;">large change of refractive index when the material goes from ferroelectric to paraelectric phase in Fig.2e.</div>
<div class="l" id="L168" style="left:3817.30px;top:1041.93px;font-size:15.5px;line-height:20px;word-spacing:0.612px;">Near the Curie point, the ions are relative easy to move (the so-called soft phonon mode), but besides</div>
<div class="l" id="L169" style="left:3817.30px;top:1064.13px;font-size:15.5px;line-height:20px;word-spacing:1.404px;">enabling a large Pockels coefficient, this facility of motion also underpins a very large static dielectric</div>
<div class="l" id="L170" style="left:413.50px;width:100px;text-align:center;top:1104.93px;font-size:15.5px;line-height:20px;">1</div>
<div class="l" id="L171" style="left:1340.50px;width:100px;text-align:center;top:1104.93px;font-size:15.5px;line-height:20px;">2</div>
<div class="l" id="L172" style="left:2267.50px;width:100px;text-align:center;top:1104.93px;font-size:15.5px;line-height:20px;">3</div>
<div class="l" id="L173" style="left:3194.50px;width:100px;text-align:center;top:1104.93px;font-size:15.5px;line-height:20px;">4</div>
<div class="l" id="L174" style="left:4121.50px;width:100px;text-align:center;top:1104.93px;font-size:15.5px;line-height:20px;">5</div>
<div class="l" style="left:3121.0px;top:290.4px;font-size:17.5px;line-height:20px;font-family:Liberation Serif;"><i>ε</i> ~ 1+</div>
<div style="position:absolute;left:3168.6px;top:301.2px;width:107px;height:1.2px;background:#000"></div>
<div class="l" style="left:3210.0px;top:279.2px;font-size:17.5px;line-height:20px;font-family:Liberation Serif;"><i>Ne</i><sup>2</sup></div>
<div class="l" style="left:3169.0px;top:303.7px;font-size:17.5px;line-height:20px;font-family:Liberation Serif;"><i>ε</i><sub>0</sub><span style="font-size:1.3em;position:relative;top:2px">⟨</span><i>d</i><sup>2</sup><i>U</i> / <i>dx</i><sup>2</sup><span style="font-size:1.3em;position:relative;top:2px">⟩</span><sub><i>N</i></sub></div>
<div class="l" style="left:3280.0px;top:290.4px;font-size:17.5px;line-height:20px;font-family:Liberation Serif;">~ 1+</div>
<div style="position:absolute;left:3314.5px;top:301.2px;width:52.5px;height:1.2px;background:#000"></div>
<div class="l" style="left:3328.0px;top:279.2px;font-size:17.5px;line-height:20px;font-family:Liberation Serif;"><i>Ne</i><sup>2</sup></div>
<div class="l" style="left:3314.5px;top:303.7px;font-size:17.5px;line-height:20px;font-family:Liberation Serif;"><i>ε</i><sub>0</sub><i>m</i><sub>0</sub><i class="ob">ω</i><sub>0</sub><sup style="margin-left:-5px">2</sup></div>
<div class="l" style="left:3581.0px;top:291.3px;font-size:15.5px;line-height:20px;">(1)</div>
<svg style="left:927px" width="927" height="1200" viewBox="0 0 927 1200"><text x="124" y="954.5" font-family="Liberation Sans" font-size="20.5" font-weight="bold" font-style="normal" fill="#000" text-anchor="start">(a)</text>
<rect x="157.2" y="926.6" width="181.4" height="5" fill="#4472c4"/>
<rect x="162" y="984.2" width="181.5" height="5" fill="#4472c4"/>
<rect x="162" y="1046.4" width="181.5" height="5" fill="#4472c4"/>
<rect x="253.3" y="988" width="4.3" height="16" fill="#4472c4"/>
<line x1="257.1" y1="1044" x2="269.5" y2="1005.3" stroke="#4472c4" stroke-width="4"/>
<circle cx="257.1" cy="1045" r="6" fill="#4472c4" stroke="#2f528f" stroke-width="1"/>
<path d="M281.4,1032.8 Q275,1014 253,1011.8" stroke="#1f3864" stroke-width="2" fill="none"/>
<polygon points="249.0,1011.3 256.3,1008.1 255.6,1015.7" fill="#1f3864"/>
<text x="170.5" y="967" font-family="Liberation Sans" font-size="16.5" font-weight="bold" font-style="normal" fill="#000" text-anchor="start">2C</text>
<line x1="184.2" y1="933" x2="184.2" y2="944.5" stroke="#000" stroke-width="1.5"/>
<polygon points="184.2,928.0 187.2,933.5 181.2,933.5" fill="#000"/>
<line x1="184.2" y1="975.6" x2="184.2" y2="981" stroke="#000" stroke-width="1.5"/>
<polygon points="184.2,985.8 181.2,980.3 187.2,980.3" fill="#000"/>
<text x="349.5" y="993.5" font-family="Liberation Sans" font-size="16" font-weight="bold" font-style="normal" fill="#000" text-anchor="start">C</text>
<line x1="357.8" y1="933" x2="357.8" y2="970.7" stroke="#000" stroke-width="1.5"/>
<polygon points="357.8,927.8 360.8,933.3 354.8,933.3" fill="#000"/>
<line x1="357.8" y1="1002" x2="357.8" y2="1043" stroke="#000" stroke-width="1.5"/>
<polygon points="357.8,1048.0 354.8,1042.5 360.8,1042.5" fill="#000"/>
<text x="421" y="953.5" font-family="Liberation Sans" font-size="20.5" font-weight="bold" font-style="normal" fill="#000" text-anchor="start">(b)</text>
<rect x="467" y="924.3" width="181" height="5" fill="#4472c4"/>
<rect x="467" y="929.2" width="181" height="31.5" fill="#92d050"/>
<text x="557.5" y="950.5" font-family="Liberation Sans" font-size="13" font-weight="normal" font-style="normal" fill="#fff" text-anchor="middle">p</text>
<text x="557" y="977.7" font-family="Liberation Sans" font-size="12.8" font-weight="normal" font-style="normal" fill="#000" text-anchor="middle">Depletion layer</text>
<rect x="467" y="986.9" width="181" height="23.2" fill="#fa9c9c"/>
<ellipse cx="477.9" cy="999.3" rx="3" ry="2" fill="#ffff00"/>
<ellipse cx="494.1" cy="993.9" rx="3" ry="2" fill="#ffff00"/>
<ellipse cx="510.3" cy="993.9" rx="3" ry="2" fill="#ffff00"/>
<ellipse cx="491.9" cy="1003.1" rx="3" ry="2" fill="#ffff00"/>
<ellipse cx="526.4" cy="1004.2" rx="3" ry="2" fill="#ffff00"/>
<ellipse cx="589.9" cy="995.8" rx="3" ry="2" fill="#ffff00"/>
<ellipse cx="608.8" cy="989.9" rx="3" ry="2" fill="#ffff00"/>
<ellipse cx="633.9" cy="991.8" rx="3" ry="2" fill="#ffff00"/>
<ellipse cx="620.9" cy="999.9" rx="3" ry="2" fill="#ffff00"/>
<ellipse cx="593.4" cy="1008" rx="3" ry="2" fill="#ffff00"/>
<rect x="467.4" y="1010.1" width="180.2" height="37.8" fill="#ff0000" stroke="#c00000" stroke-width="0.8"/>
<polygon points="558.8,986.4 579.6,998.5 569.6,998.5 569.6,1010 549.4,1010 549.4,998.5 539.4,998.5" fill="#7030a0" stroke="#3a1a5a" stroke-width="0.7"/>
<text x="557" y="1035" font-family="Liberation Sans" font-size="13" font-weight="normal" font-style="normal" fill="#fff" text-anchor="middle">n</text>
<rect x="467" y="1047.9" width="181" height="5" fill="#4472c4"/></svg>
<svg style="left:1854px" width="927" height="1200" viewBox="0 0 927 1200"><text x="199" y="422.5" font-family="Liberation Sans" font-size="14.5" font-weight="bold" font-style="normal" fill="#000" text-anchor="start">E<tspan font-size="9" dy="2">0</tspan><tspan dy="-2"> cos(ωt)</tspan></text>
<line x1="198" y1="429.4" x2="271.5" y2="429.4" stroke="#c00000" stroke-width="2.6"/>
<polygon points="192.0,429.4 200.0,425.0 200.0,433.8" fill="#c00000"/>
<rect x="145" y="465.3" width="176.8" height="81" fill="#e4e9f5" stroke="#8fa2c8" stroke-width="0.8"/>
<polyline points="145.0,448.4 147.5,455.0 150.0,461.3 152.6,467.3 155.1,473.2 157.6,478.8 160.1,484.2 162.7,489.4 165.2,494.3 167.7,499.1 170.2,503.6 172.7,507.9 175.3,511.9 177.8,515.8 180.3,519.4 182.8,522.8 185.3,526.0 187.9,528.9 190.4,531.6 192.9,534.1 195.4,536.4 198.0,538.5 200.5,540.3 203.0,541.9 205.5,543.3 208.0,544.5 210.6,545.4 213.1,546.2 215.6,546.7 218.1,546.9 220.7,547.0 223.2,546.8 225.7,546.4 228.2,545.8 230.7,545.0 233.3,543.9 235.8,542.6 238.3,541.1 240.8,539.4 243.3,537.5 245.9,535.3 248.4,532.9 250.9,530.3 253.4,527.4 256.0,524.4 258.5,521.1 261.0,517.6 263.5,513.8 266.0,509.9 268.6,505.7 271.1,501.3 273.6,496.7 276.1,491.8 278.6,486.7 281.2,481.4 283.7,475.9 286.2,470.2 288.7,464.2 291.3,458.0 293.8,451.6 296.3,445.0" fill="none" stroke="#1f3a73" stroke-width="1.4" stroke-dasharray="4,2.5"/>
<path d="M142,488 C165,498 195,547 220,547 C245,547 262,522 280,500 C292,484 302,471 312.8,469.5" fill="none" stroke="#e3262b" stroke-width="2"/>
<line x1="133" y1="465.3" x2="318" y2="465.3" stroke="#000" stroke-width="1.6"/>
<polygon points="323.0,465.3 317.0,468.6 317.0,462.0" fill="#000"/>
<text x="327.5" y="472" font-family="Liberation Sans" font-size="14" font-weight="bold" font-style="normal" fill="#000" text-anchor="start">r</text>
<line x1="219" y1="449" x2="219" y2="572.4" stroke="#000" stroke-width="1.4"/>
<polygon points="219.0,444.0 221.8,449.0 216.2,449.0" fill="#000"/>
<text x="222.5" y="457" font-family="Liberation Sans" font-size="14" font-weight="bold" font-style="italic" fill="#000" text-anchor="start">U(r)</text>
<text x="211" y="475" font-family="Liberation Sans" font-size="9.5" font-weight="normal" font-style="normal" fill="#000" text-anchor="start">0</text>
<text x="241" y="477" font-family="Liberation Sans" font-size="13.5" font-weight="bold" font-style="normal" fill="#000" text-anchor="start">a</text>
<line x1="168" y1="480.3" x2="272" y2="480.3" stroke="#7f7f7f" stroke-width="1.2"/>
<polygon points="164.4,480.3 169.4,477.6 169.4,483.1" fill="#7f7f7f"/>
<polygon points="275.4,480.3 270.4,483.1 270.4,477.6" fill="#7f7f7f"/>
<circle cx="246.9" cy="525.3" r="6" fill="#e84a50" fill-opacity="0.85"/>
<line x1="250" y1="529.5" x2="269" y2="508.5" stroke="#4472c4" stroke-width="2"/>
<polygon points="272.4,504.9 271.0,511.0 266.5,507.0" fill="#4472c4"/>
<polygon points="246.9,533.4 248.3,527.3 252.8,531.3" fill="#4472c4"/>
<text x="197" y="567.9" font-family="Liberation Sans" font-size="14" font-weight="bold" font-style="italic" fill="#000" text-anchor="start">-U<tspan font-size="9.5" dy="3">0</tspan></text>
<text x="123" y="461.5" font-family="Liberation Sans" font-size="19" font-weight="bold" font-style="normal" fill="#000" text-anchor="start">(a)</text>
<rect x="353.3" y="463" width="180.7" height="79.4" fill="#d8e3f2" stroke="#8fa2c8" stroke-width="0.8"/>
<path d="M347.3,470.4 C380,478 410,499 438.7,498.9 C470,499 505,470 543,460.9" fill="none" stroke="#e3262b" stroke-width="2"/>
<path d="M374.3,485.4 C400,492 420,543.3 440.2,543.3 C465,543.3 495,480 519.7,463" fill="none" stroke="#c0383c" stroke-width="1.1" stroke-dasharray="3.5,2"/>
<line x1="366.8" y1="462.4" x2="524" y2="462.4" stroke="#1f2f4f" stroke-width="1.6"/>
<polygon points="529.0,462.4 523.0,465.7 523.0,459.1" fill="#1f2f4f"/>
<text x="530" y="468" font-family="Liberation Sans" font-size="14" font-weight="bold" font-style="normal" fill="#000" text-anchor="start">r</text>
<line x1="439.6" y1="445" x2="439.6" y2="567.9" stroke="#000" stroke-width="1.4"/>
<polygon points="439.6,440.5 442.4,445.5 436.9,445.5" fill="#000"/>
<text x="443" y="455.5" font-family="Liberation Sans" font-size="14" font-weight="bold" font-style="italic" fill="#000" text-anchor="start">U(r)</text>
<text x="431.5" y="472.5" font-family="Liberation Sans" font-size="9.5" font-weight="normal" font-style="normal" fill="#000" text-anchor="start">0</text>
<circle cx="438.7" cy="495.3" r="6" fill="#d9545a" fill-opacity="0.75"/>
<circle cx="438.7" cy="537.3" r="6" fill="#e8a0a6" fill-opacity="0.7"/>
<line x1="439.6" y1="528.9" x2="439.6" y2="506" stroke="#4472c4" stroke-width="2.4"/>
<polygon points="439.6,501.5 442.9,507.5 436.3,507.5" fill="#4472c4"/>
<line x1="440" y1="499.8" x2="555.6" y2="499.8" stroke="#4472c4" stroke-width="0.9" stroke-dasharray="3,2"/>
<line x1="440" y1="543" x2="555.6" y2="543" stroke="#4472c4" stroke-width="0.9" stroke-dasharray="3,2"/>
<line x1="546" y1="507" x2="546" y2="539" stroke="#000" stroke-width="1.4"/>
<polygon points="546.0,503.4 548.8,508.4 543.2,508.4" fill="#000"/>
<polygon points="546.0,543.0 543.2,538.0 548.8,538.0" fill="#000"/>
<text x="553" y="528" font-family="Liberation Sans" font-size="14" font-weight="bold" font-style="italic" fill="#000" text-anchor="start">~U<tspan font-size="9.5" dy="3">0</tspan></text>
<polygon points="491.2,531.9 519.7,551.4 505.3,551.4 505.3,567.9 477.09999999999997,567.9 477.09999999999997,551.4 462.7,551.4" fill="#4472c4" fill-opacity="1"/>
<text x="473" y="591.9" font-family="Liberation Sans" font-size="15" font-weight="bold" font-style="normal" fill="#8a8a8a" text-anchor="start">ΔT,S,E<tspan font-size="10" dy="3">DC</tspan></text>
<text x="417.5" y="561.9" font-family="Liberation Sans" font-size="14" font-weight="bold" font-style="italic" fill="#000" text-anchor="start">-U<tspan font-size="9.5" dy="3">0</tspan></text>
<text x="350" y="461.5" font-family="Liberation Sans" font-size="19" font-weight="bold" font-style="normal" fill="#000" text-anchor="start">(b)</text>
<rect x="587" y="458.5" width="149.4" height="81" fill="#d8e3f2" stroke="#8fa2c8" stroke-width="0.8"/>
<path d="M584,481 C610,492 630,539.5 650,539.5 C675,539.5 700,468 728,462" fill="none" stroke="#e3262b" stroke-width="2"/>
<line x1="578" y1="458.5" x2="733" y2="458.5" stroke="#1f2f4f" stroke-width="1.6"/>
<polygon points="738.0,458.5 732.0,461.8 732.0,455.2" fill="#1f2f4f"/>
<text x="740" y="465" font-family="Liberation Sans" font-size="14" font-weight="bold" font-style="normal" fill="#000" text-anchor="start">r</text>
<line x1="649.4" y1="442" x2="649.4" y2="564.4" stroke="#000" stroke-width="1.4"/>
<polygon points="649.4,437.5 652.1,442.5 646.6,442.5" fill="#000"/>
<text x="652.5" y="449.5" font-family="Liberation Sans" font-size="14" font-weight="bold" font-style="italic" fill="#000" text-anchor="start">U(r)</text>
<text x="641" y="470.5" font-family="Liberation Sans" font-size="11" font-weight="normal" font-style="normal" fill="#000" text-anchor="start">0</text>
<polygon points="623,521.5 641,539.5 632.3,539.5 632.3,565 613.7,565 613.7,539.5 605,539.5" fill="#4472c4" fill-opacity="1"/>
<circle cx="609.5" cy="494.5" r="6" fill="#e84a50" fill-opacity="0.9"/>
<circle cx="650" cy="533" r="5.5" fill="#e8a0a6" fill-opacity="0.7"/>
<line x1="642.5" y1="529" x2="617" y2="503.5" stroke="#4472c4" stroke-width="2"/>
<polygon points="614.0,500.5 620.6,502.4 615.9,507.1" fill="#4472c4"/>
<line x1="651.5" y1="488" x2="764" y2="488" stroke="#4472c4" stroke-width="0.9" stroke-dasharray="3,2"/>
<line x1="651.5" y1="531.4" x2="764" y2="531.4" stroke="#4472c4" stroke-width="0.9" stroke-dasharray="3,2"/>
<line x1="752.6" y1="495" x2="752.6" y2="527.5" stroke="#000" stroke-width="1.4"/>
<polygon points="752.6,491.5 755.4,496.5 749.9,496.5" fill="#000"/>
<polygon points="752.6,531.4 749.9,526.4 755.4,526.4" fill="#000"/>
<text x="760" y="517" font-family="Liberation Sans" font-size="14" font-weight="bold" font-style="italic" fill="#000" text-anchor="start">~U<tspan font-size="9.5" dy="3">0</tspan></text>
<text x="660" y="562" font-family="Liberation Sans" font-size="14" font-weight="bold" font-style="italic" fill="#000" text-anchor="start">-U<tspan font-size="9.5" dy="3">0</tspan></text>
<text x="591.5" y="589" font-family="Liberation Sans" font-size="16.5" font-weight="normal" font-style="normal" fill="#8a8a8a" text-anchor="start" textLength="94" lengthAdjust="spacingAndGlyphs">E<tspan font-size="11" dy="3">DC</tspan><tspan dy="-3">,E</tspan><tspan font-size="11" dy="3">ω,</tspan><tspan dy="-3"> |E</tspan><tspan font-size="11" dy="3">ω</tspan><tspan dy="-3">|</tspan><tspan font-size="11" dy="-5">2</tspan></text>
<text x="568.5" y="457" font-family="Liberation Sans" font-size="19" font-weight="bold" font-style="normal" fill="#000" text-anchor="start">(c)</text>
<rect x="147.4" y="616.6" width="153" height="81" fill="#dde6f3" stroke="#8fa2c8" stroke-width="0.8"/>
<rect x="147.4" y="616.6" width="153" height="25.8" fill="#dcbccb"/>
<rect x="147.4" y="681" width="153" height="14.5" fill="#dcbccb" stroke="#e05050" stroke-width="0.8"/>
<path d="M148,640 C175,650 195,697 214,697 C240,697 262,625 292,619.6" fill="none" stroke="#e3262b" stroke-width="2"/>
<line x1="142" y1="616.6" x2="295" y2="616.6" stroke="#000" stroke-width="1.6"/>
<polygon points="300.0,616.6 294.0,619.9 294.0,613.3" fill="#000"/>
<text x="304.5" y="623" font-family="Liberation Sans" font-size="14" font-weight="bold" font-style="normal" fill="#000" text-anchor="start">r</text>
<line x1="142" y1="642.4" x2="329.5" y2="642.4" stroke="#000" stroke-width="1.2"/>
<line x1="191.5" y1="680.5" x2="325" y2="680.5" stroke="#000" stroke-width="1.2"/>
<line x1="213.4" y1="599.5" x2="213.4" y2="722.5" stroke="#000" stroke-width="1.4"/>
<polygon points="213.4,595.0 216.2,600.0 210.7,600.0" fill="#000"/>
<text x="216.5" y="608.5" font-family="Liberation Sans" font-size="14" font-weight="bold" font-style="italic" fill="#000" text-anchor="start">U(r)</text>
<text x="206" y="628" font-family="Liberation Sans" font-size="11" font-weight="normal" font-style="normal" fill="#000" text-anchor="start">0</text>
<text x="237.5" y="641.5" font-family="Liberation Sans" font-size="12.5" font-weight="bold" font-style="normal" fill="#000" text-anchor="start">CB</text>
<text x="252.5" y="694" font-family="Liberation Sans" font-size="12.5" font-weight="bold" font-style="normal" fill="#000" text-anchor="start">VB</text>
<circle cx="214" cy="641.5" r="6.2" fill="#e84a50" fill-opacity="0.95"/>
<circle cx="213.4" cy="680.5" r="5.5" fill="#e8a0a6" fill-opacity="0.6"/>
<line x1="206.5" y1="680" x2="206.5" y2="648.5" stroke="#4472c4" stroke-width="2.2"/>
<polygon points="206.5,644.5 209.8,650.5 203.2,650.5" fill="#4472c4"/>
<line x1="318" y1="646" x2="318" y2="675" stroke="#4472c4" stroke-width="0.8"/>
<polygon points="318.0,643.0 319.9,646.5 316.1,646.5" fill="#4472c4"/>
<polygon points="318.0,678.4 316.1,674.9 319.9,674.9" fill="#4472c4"/>
<text x="324.5" y="670" font-family="Liberation Sans" font-size="13.5" font-weight="bold" font-style="italic" fill="#000" text-anchor="start">~ħω</text>
<polygon points="187.6,679.6 205.6,697.6 196.6,697.6 196.6,723.4 178.6,723.4 178.6,697.6 169.6,697.6" fill="#4472c4" fill-opacity="1"/>
<clipPath id="vbclip"><rect x="147.4" y="681" width="153" height="14.5"/></clipPath>
<g clip-path="url(#vbclip)"><polygon points="187.6,679.6 205.6,697.6 196.6,697.6 196.6,723.4 178.6,723.4 178.6,697.6 169.6,697.6" fill="#6a5fa8" fill-opacity="1"/></g>
<rect x="147.4" y="681" width="153" height="14.5" fill="none" stroke="#e05050" stroke-width="0.8"/>
<text x="135.4" y="724" font-family="Liberation Sans" font-size="16.5" font-weight="normal" font-style="normal" fill="#8a8a8a" text-anchor="start" textLength="38" lengthAdjust="spacingAndGlyphs">|E<tspan font-size="11" dy="3">ω</tspan><tspan dy="-3">|</tspan><tspan font-size="11" dy="-5">2</tspan></text>
<text x="221" y="714.4" font-family="Liberation Sans" font-size="14" font-weight="bold" font-style="italic" fill="#000" text-anchor="start">-U<tspan font-size="9.5" dy="3">0</tspan></text>
<text x="130" y="613.6" font-family="Liberation Sans" font-size="19" font-weight="bold" font-style="normal" fill="#000" text-anchor="start">(d)</text>
<rect x="374.6" y="621" width="189.2" height="80.4" fill="#e4e9f5" stroke="#8fa2c8" stroke-width="0.8"/>
<path d="M381.5,620 C410,625 430,697 464,697 C498,697 515,625 542,620" fill="none" stroke="#2e75b6" stroke-width="2"/>
<path d="M369.5,634 C388,650 400,700 414.5,700 C430,700 445,669.4 461,669.4 C477,669.4 490,700.5 504.4,700.5 C520,700.5 535,650 549.4,633.4" fill="none" stroke="#e3262b" stroke-width="1.8" stroke-dasharray="5,3"/>
<line x1="374.6" y1="620.5" x2="558" y2="620.5" stroke="#000" stroke-width="1.6"/>
<polygon points="563.5,620.5 557.5,623.8 557.5,617.2" fill="#000"/>
<text x="567.5" y="627" font-family="Liberation Sans" font-size="14" font-weight="bold" font-style="normal" fill="#000" text-anchor="start">r</text>
<line x1="461" y1="604" x2="461" y2="727" stroke="#000" stroke-width="1.4"/>
<polygon points="461.0,599.5 463.8,604.5 458.2,604.5" fill="#000"/>
<text x="464" y="612.4" font-family="Liberation Sans" font-size="14" font-weight="bold" font-style="italic" fill="#000" text-anchor="start">U(r)</text>
<text x="450.5" y="629.5" font-family="Liberation Sans" font-size="9.5" font-weight="normal" font-style="normal" fill="#000" text-anchor="start">0</text>
<circle cx="412.4" cy="690.3" r="6" fill="#e8a0a6" fill-opacity="0.7"/>
<circle cx="461" cy="690.3" r="6.2" fill="#e84a50" fill-opacity="0.95"/>
<line x1="410" y1="688" x2="453" y2="688" stroke="#4472c4" stroke-width="2.2"/>
<polygon points="458.0,688.0 452.0,691.3 452.0,684.7" fill="#4472c4"/>
<polygon points="422.5,700 440.0,718.5 431.5,718.5 431.5,744.3 413.5,744.3 413.5,718.5 405.0,718.5" fill="#4472c4" fill-opacity="1"/>
<text x="444" y="724" font-family="Liberation Sans" font-size="14" font-weight="bold" font-style="italic" fill="#000" text-anchor="start">-U<tspan font-size="9.5" dy="3">0</tspan></text>
<text x="350" y="749.4" font-family="Liberation Sans" font-size="15" font-weight="bold" font-style="normal" fill="#8a8a8a" text-anchor="start">ΔT,S,E<tspan font-size="10" dy="3">DC</tspan></text>
<text x="353" y="613" font-family="Liberation Sans" font-size="19" font-weight="bold" font-style="normal" fill="#000" text-anchor="start">(e)</text>
<path d="M586.9,616.6 C620,625 640,658.6 667.8,658.6 C695,658.6 720,625 750.3,616.6" fill="none" stroke="#2e75b6" stroke-width="1.8"/>
<path d="M592.9,718.5 C625,712 645,700.5 667.8,700.5 C690,700.5 720,712 756.3,718.5" fill="none" stroke="#2e75b6" stroke-width="1.8"/>
<line x1="667.8" y1="701.4" x2="786" y2="701.4" stroke="#000" stroke-width="1.3"/>
<polygon points="791.0,701.4 785.5,704.4 785.5,698.4" fill="#000"/>
<text x="772.5" y="715" font-family="Liberation Sans" font-size="14" font-weight="bold" font-style="normal" fill="#000" text-anchor="start">k</text>
<circle cx="616.3" cy="625" r="3.3" fill="#ee1c24"/>
<circle cx="646.9" cy="641.5" r="3.3" fill="#ee1c24"/>
<circle cx="658.2" cy="649.6" r="3.3" fill="#ee1c24"/>
<circle cx="667.2" cy="643" r="3.3" fill="#ee1c24"/>
<circle cx="673.8" cy="647.5" r="3.3" fill="#ee1c24"/>
<circle cx="690.3" cy="641.5" r="3.3" fill="#ee1c24"/>
<circle cx="721.8" cy="625.6" r="3.3" fill="#ee1c24"/>
<circle cx="623.8" cy="724.8" r="3.3" fill="#0d1f5c"/>
<circle cx="655.2" cy="709.8" r="3.3" fill="#0d1f5c"/>
<circle cx="672.3" cy="716.4" r="3.3" fill="#0d1f5c"/>
<circle cx="667.2" cy="726.3" r="3.3" fill="#0d1f5c"/>
<circle cx="687.3" cy="708.3" r="3.3" fill="#0d1f5c"/>
<circle cx="704.4" cy="723.3" r="3.3" fill="#0d1f5c"/>
<circle cx="729.3" cy="725.4" r="3.3" fill="#0d1f5c"/>
<line x1="654.3" y1="616.6" x2="675" y2="632.7" stroke="#ee1c24" stroke-width="3.5"/>
<polygon points="681.0,637.3 672.0,635.8 677.4,628.9" fill="#ee1c24"/>
<text x="666" y="619" font-family="Liberation Sans" font-size="12.5" font-weight="bold" font-style="normal" fill="#000" text-anchor="start">Signal</text>
<line x1="658.8" y1="662" x2="658.8" y2="696.5" stroke="#000" stroke-width="1.2"/>
<polygon points="658.8,658.6 661.0,662.6 656.6,662.6" fill="#000"/>
<polygon points="658.8,700.2 656.6,696.2 661.0,696.2" fill="#000"/>
<text x="666" y="682" font-family="Liberation Sans" font-size="14" font-weight="bold" font-style="normal" fill="#000" text-anchor="start">E<tspan font-size="10" dy="3">g</tspan></text>
<polygon points="637.8,656.5 655.8,675.4 646.8,675.4 646.8,700.5 628.8,700.5 628.8,675.4 619.8,675.4" fill="#4472c4" fill-opacity="1"/>
<text x="586.9" y="673.5" font-family="Liberation Sans" font-size="16.5" font-weight="normal" font-style="normal" fill="#8a8a8a" text-anchor="start" textLength="36" lengthAdjust="spacingAndGlyphs">|E<tspan font-size="11" dy="3">ω</tspan><tspan dy="-3">|</tspan><tspan font-size="11" dy="-5">2</tspan></text>
<text x="576" y="695.4" font-family="Liberation Sans" font-size="13" font-weight="bold" font-style="normal" fill="#000" text-anchor="start">Control</text>
<text x="567" y="613" font-family="Liberation Sans" font-size="19" font-weight="bold" font-style="normal" fill="#000" text-anchor="start">(f)</text></svg>
</div></body></html>
